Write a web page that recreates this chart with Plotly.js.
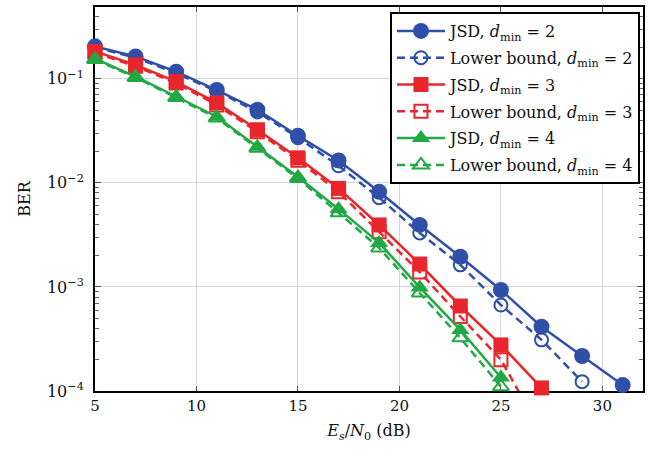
<!DOCTYPE html>
<html>
<head>
<meta charset="utf-8">
<script src="https://cdn.plot.ly/plotly-3.0.1.min.js"></script>
<style>
  html, body { margin: 0; padding: 0; background: #ffffff; }
  #chart { width: 650px; height: 449px; }
</style>
</head>
<body>
<div id="chart"></div>
<script>
// Es/N0 (dB) sample points per series
const snrJsd2 = [5, 7, 9, 11, 13, 15, 17, 19, 21, 23, 25, 27, 29, 31];
const snrLb2  = [5, 7, 9, 11, 13, 15, 17, 19, 21, 23, 25, 27, 29];
const snrJsd3 = [5, 7, 9, 11, 13, 15, 17, 19, 21, 23, 25, 27];
const snrLb3  = [5, 7, 9, 11, 13, 15, 17, 19, 21, 23, 25, 27];
const snrJsd4 = [5, 7, 9, 11, 13, 15, 17, 19, 21, 23, 25];
const snrLb4  = [5, 7, 9, 11, 13, 15, 17, 19, 21, 23, 25];

// Bit error rates
const berJsd2 = [0.205, 0.164, 0.117, 0.078, 0.0504, 0.0283, 0.0164, 0.0082, 0.00394, 0.00195, 0.000935, 0.000415, 0.000217, 0.000114];
const berLb2  = [0.2, 0.16, 0.113, 0.076, 0.048, 0.0272, 0.0146, 0.0072, 0.0033, 0.00163, 0.00067, 0.00031, 0.000123];
const berJsd3 = [0.183, 0.136, 0.094, 0.0587, 0.0324, 0.0174, 0.00885, 0.00394, 0.00166, 0.000656, 0.000277, 0.000107];
const berLb3  = [0.178, 0.132, 0.091, 0.056, 0.031, 0.0165, 0.0082, 0.0034, 0.00139, 0.00052, 0.0002, 0.00004];
const berJsd4 = [0.156, 0.105, 0.0676, 0.0432, 0.0222, 0.0114, 0.00562, 0.00265, 0.00099, 0.000386, 0.000135];
const berLb4  = [0.153, 0.103, 0.066, 0.042, 0.0215, 0.011, 0.00515, 0.00237, 0.000875, 0.000324, 0.00011];

// Axis ticks
const xTicks = [5, 10, 15, 20, 25, 30];
const yTickVals = [1e-4, 1e-3, 1e-2, 1e-1];
const yTickText = ['10<sup>−4</sup>', '10<sup>−3</sup>', '10<sup>−2</sup>', '10<sup>−1</sup>'];

const BLUE = '#2f4fa8';
const RED = '#e8262b';
const GREEN = '#22a845';
const SERIF = 'DejaVu Serif';
const DASH = '8px,5px';

function jsd(x, y, color, symbol, size, name, group) {
  return {
    x: x, y: y, name: name, legendgroup: group, type: 'scatter', mode: 'lines+markers',
    cliponaxis: false,
    line: { color: color, width: 2.5 },
    marker: { color: color, symbol: symbol, size: size }
  };
}
function bound(x, y, color, symbol, size, name, group) {
  return {
    x: x, y: y, name: name, legendgroup: group, type: 'scatter', mode: 'lines+markers',
    cliponaxis: false,
    line: { color: color, width: 2.5, dash: DASH },
    marker: { color: color, symbol: symbol, size: size, line: { color: color, width: 2 } }
  };
}

const dmin = v => 'JSD, <i>d</i><sub>min</sub> = ' + v;
const lbName = v => 'Lower bound, <i>d</i><sub>min</sub> = ' + v;

const data = [
  jsd(snrJsd2, berJsd2, BLUE, 'circle', 16, dmin(2), 'g1'),
  bound(snrLb2, berLb2, BLUE, 'circle-open', 13, lbName(2), 'g2'),
  jsd(snrJsd3, berJsd3, RED, 'square', 15, dmin(3), 'g3'),
  bound(snrLb3, berLb3, RED, 'square-open', 13, lbName(3), 'g4'),
  jsd(snrJsd4, berJsd4, GREEN, 'triangle-up', 16, dmin(4), 'g5'),
  bound(snrLb4, berLb4, GREEN, 'triangle-up-open', 14, lbName(4), 'g6')
];

const layout = {
  width: 650, height: 449,
  margin: { l: 95, r: 7, t: 7, b: 58 },
  paper_bgcolor: '#ffffff',
  plot_bgcolor: '#ffffff',
  font: { family: SERIF, size: 15, color: '#111111' },
  showlegend: true,
  legend: {
    x: 0.9945, y: 0.987, xanchor: 'right', yanchor: 'top',
    bgcolor: '#ffffff', bordercolor: '#000000', borderwidth: 2,
    font: { family: SERIF, size: 16, color: '#111111' },
    itemwidth: 48,
    tracegroupgap: 3
  },
  xaxis: {
    range: [5, 32],
    tickvals: xTicks,
    ticks: 'inside', ticklen: 5, tickcolor: '#555555',
    showline: true, linecolor: '#000000', linewidth: 2, mirror: 'ticks',
    showgrid: true, gridcolor: '#d3d6da', gridwidth: 1,
    zeroline: false,
    layer: 'below traces',
    tickfont: { family: SERIF, size: 15 },
    title: { text: '<i>E</i><sub><i>s</i></sub>/<i>N</i><sub>0</sub> (dB)', font: { family: SERIF, size: 16 }, standoff: 11 }
  },
  yaxis: {
    type: 'log',
    range: [-4, -0.31],
    tickvals: yTickVals, ticktext: yTickText,
    ticks: 'inside', ticklen: 6, tickcolor: '#555555',
    ticklabelstandoff: 6,
    minor: { ticks: 'inside', ticklen: 4, tickcolor: '#666666', dtick: 'D1', showgrid: false },
    showline: true, linecolor: '#000000', linewidth: 2, mirror: 'ticks',
    showgrid: true, gridcolor: '#d3d6da', gridwidth: 1,
    zeroline: false,
    layer: 'below traces',
    tickfont: { family: SERIF, size: 16 },
    title: { text: 'BER', font: { family: SERIF, size: 16 }, standoff: 12 }
  }
};

Plotly.newPlot('chart', data, layout, { displayModeBar: false, staticPlot: true });
</script>
</body>
</html>
